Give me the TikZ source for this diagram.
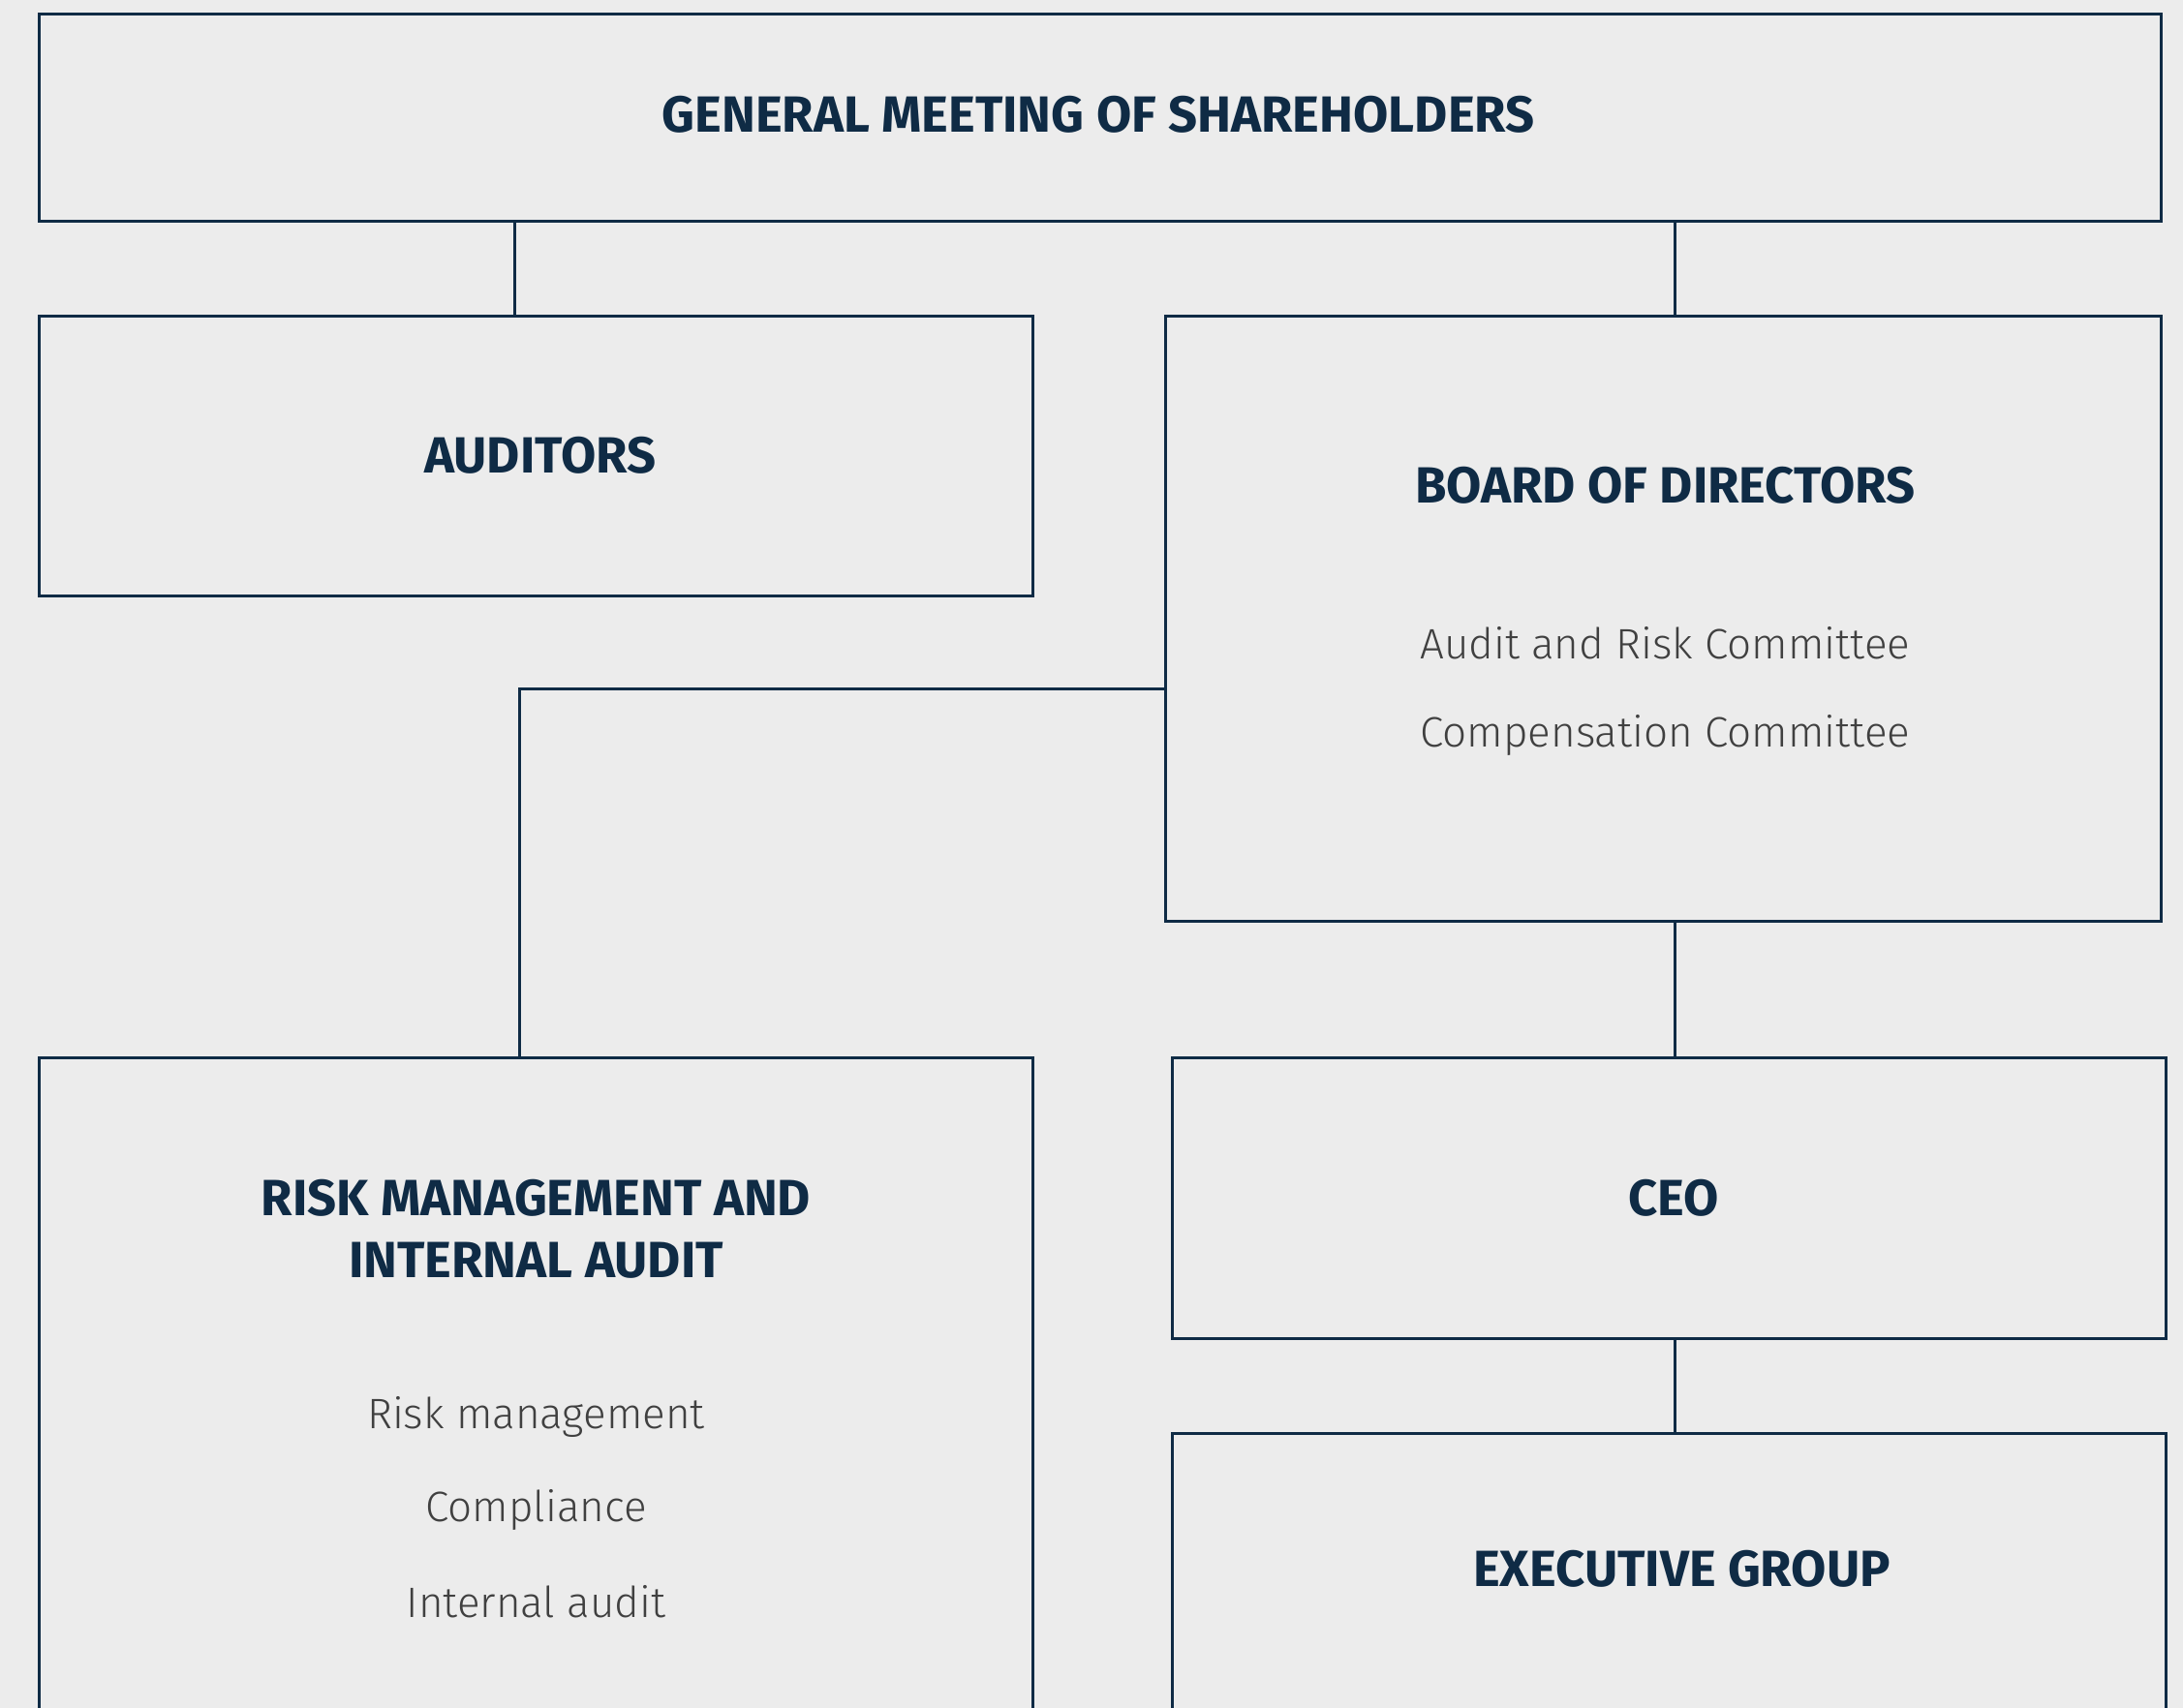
\documentclass[tikz,border=0pt]{standalone}
\usepackage{fontspec}
\setmainfont{Fira Sans}
\newfontfamily\lightfont{Fira Sans Light}
\usepackage{tikz}
\usetikzlibrary{positioning,calc}

\definecolor{navy}{HTML}{0F2B45}
\definecolor{paper}{HTML}{ECECEC}
\definecolor{itemgray}{HTML}{404040}

\begin{document}
\begin{tikzpicture}[
    orgbox/.style={draw=navy,line width=0.6pt,rectangle,inner sep=0pt},
    title/.style={text=navy,font=\fontsize{10.4}{12.5}\selectfont\bfseries,align=center},
    item/.style={text=itemgray,font=\fontsize{8.7}{10.5}\selectfont\lightfont},
    link/.style={draw=navy,line width=0.6pt}
]
% Background and page size
\fill[paper] (0,0) rectangle (15.68,-12.27);
\useasboundingbox (0,0) rectangle (15.68,-12.27);

% Boxes
\node[orgbox,minimum width=15.24cm,minimum height=1.49cm] (gms) at (7.90,-0.845) {};
\node[orgbox,minimum width=7.14cm,minimum height=2.01cm] (aud) at (3.85,-3.275) {};
\node[orgbox,minimum width=7.15cm,minimum height=4.35cm] (board) at (11.945,-4.445) {};
\node[orgbox,minimum width=7.14cm,minimum height=5.00cm] (risk) at (3.85,-10.10) {};
\node[orgbox,minimum width=7.14cm,minimum height=2.02cm] (ceo) at (11.99,-8.61) {};
\node[orgbox,minimum width=7.14cm,minimum height=3.00cm] (exec) at (11.99,-11.80) {};

% Titles
\node[title] (gmsT) at (7.89,-0.82) {GENERAL MEETING OF SHAREHOLDERS};
\node[title] (audT) at (3.88,-3.27) {AUDITORS};
\node[title] (boardT) at (11.96,-3.49) {BOARD OF DIRECTORS};
\node[title] (riskT) at (3.85,-8.83) {RISK MANAGEMENT AND\\INTERNAL AUDIT};
\node[title] (ceoT) at (12.02,-8.61) {CEO};
\node[title] (execT) at (12.08,-11.27) {EXECUTIVE GROUP};

% Committees and functions
\node[item] (arc) at (11.96,-4.62) {Audit and Risk Committee};
\node[item] (comp) at (11.96,-5.28) {Compensation Committee};
\node[item] (rm) at (3.85,-10.18) {Risk management};
\node[item] (compl) at (3.85,-10.85) {Compliance};
\node[item] (ia) at (3.85,-11.51) {Internal audit};

% Connectors
\coordinate (leftdrop) at (3.70,0);
\coordinate (spine) at (12.03,0);
\coordinate (jog) at (3.73,-4.95);
\draw[link] (gms.south -| leftdrop) -- (aud.north -| leftdrop);
\draw[link] (gms.south -| spine) -- (board.north -| spine);
\draw[link] (board.west |- jog) -| (risk.north -| jog);
\draw[link] (board.south -| spine) -- (ceo.north -| spine);
\draw[link] (ceo.south -| spine) -- (exec.north -| spine);
\end{tikzpicture}
\end{document}
